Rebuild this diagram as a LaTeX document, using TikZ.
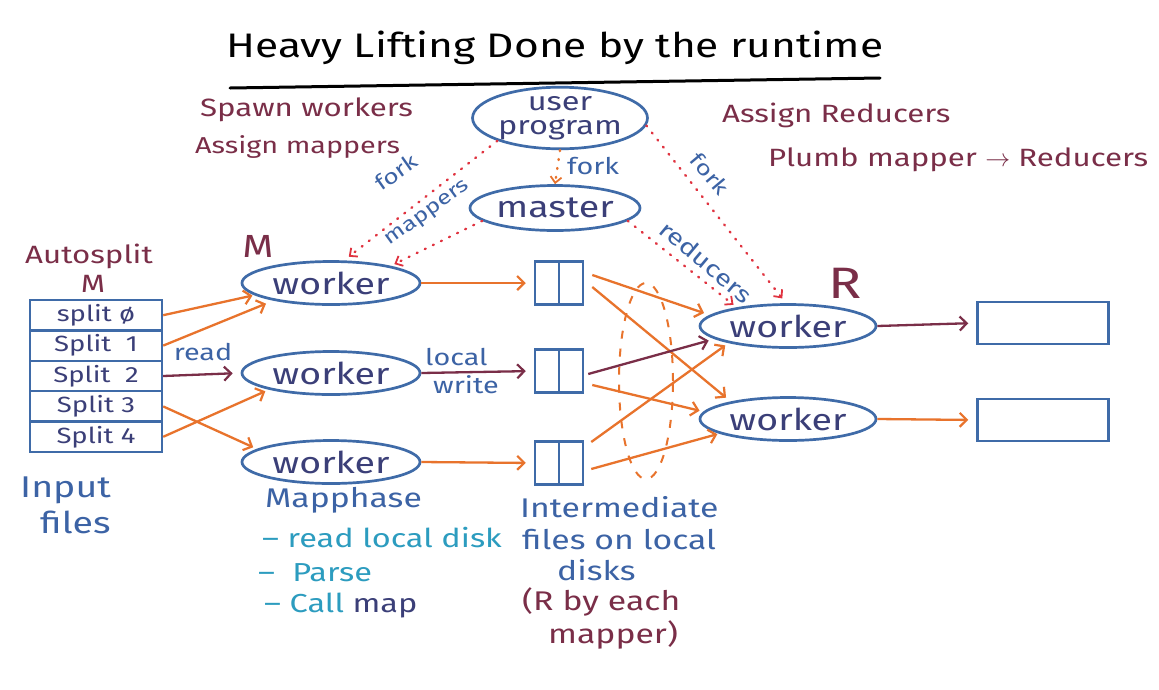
\documentclass[tikz,border=0pt]{standalone}
\usepackage{fontspec}
\setmainfont[FakeStretch=1.25]{Fira Sans}
\usetikzlibrary{shapes.geometric,arrows.meta}
\definecolor{navy}{HTML}{3B3F78}
\definecolor{lineblue}{HTML}{3F6BA8}
\definecolor{lblue}{HTML}{3C63A5}
\definecolor{maroon}{HTML}{7A2E48}
\definecolor{orng}{HTML}{E8732C}
\definecolor{dred}{HTML}{E03340}
\definecolor{teal}{HTML}{2C9CBF}
\tikzset{
  ell/.style={ellipse, draw=lineblue, line width=2.7pt, inner sep=0pt, text=navy, font=\fontsize{30}{30}\selectfont},
  splitrow/.style={rectangle, draw=lineblue, line width=2.4pt, minimum width=132pt, minimum height=30.4pt, inner sep=0pt, text=navy, font=\fontsize{22}{22}\selectfont},
  ibox/.style={rectangle, draw=lineblue, line width=2.5pt, minimum width=48pt, minimum height=43pt, inner sep=0pt},
  obox/.style={rectangle, draw=lineblue, line width=2.5pt, minimum width=131pt, minimum height=42pt, inner sep=0pt},
  tip/.style={-{Straight Barb[length=7pt,width=14pt,line width=2.2pt]}},
  oarr/.style={tip, draw=orng, line width=2.3pt},
  marr/.style={tip, draw=maroon, line width=2.3pt},
  rdot/.style={-{Straight Barb[length=6pt,width=11pt,line width=1.8pt]}, draw=dred, line width=2.4pt, dash pattern=on 1pt off 8pt, line cap=round},
  odot/.style={-{Straight Barb[length=6pt,width=11pt,line width=1.8pt]}, draw=orng, line width=2.4pt, dash pattern=on 1pt off 8pt, line cap=round},
  mtext/.style={text=maroon, font=\fontsize{25}{28}\selectfont, inner sep=0pt},
  btext/.style={text=lblue, font=\fontsize{27}{31}\selectfont, inner sep=0pt},
  ttext/.style={text=teal, font=\fontsize{26}{30}\selectfont, inner sep=0pt},
  small/.style={text=lblue, font=\fontsize{23}{25}\selectfont, inner sep=0pt},
}
\begin{document}
\begin{tikzpicture}[x=1pt,y=-1pt]
\useasboundingbox[fill=white] (0,0) rectangle (1159,689);

% title
\node[font=\fontsize{34}{36}\selectfont, inner sep=0pt] (title) at (555,48) {Heavy Lifting Done by the runtime};
\coordinate (ul1) at (230,88);
\coordinate (ul2) at (880,78);
\draw[line width=3pt, line cap=round] (ul1) -- (ul2);

% side notes
\node[mtext, anchor=west] (spawn) at (200,110) {Spawn workers};
\node[mtext, anchor=west, font=\fontsize{23}{26}\selectfont] (assignm) at (195,147) {Assign mappers};
\node[mtext, anchor=west] (assignr) at (722,115) {Assign Reducers};
\node[mtext, anchor=west] (plumb) at (768,160) {Plumb mapper $\rightarrow$ Reducers};

% user program and master
\node[ell, minimum width=160pt, minimum height=60pt, align=center, font=\fontsize{26}{24}\selectfont] (up) at (560,118) {user\\program};
\node[ell, minimum width=170pt, minimum height=45pt] (master) at (555,208) {master};

\draw[odot] (up.south) -- (master.north);
\node[small, anchor=west] (forkc) at (567,166) {fork};

% map workers
\node[ell, minimum width=178pt, minimum height=43pt] (w1) at (331,283) {worker};
\node[ell, minimum width=178pt, minimum height=43pt] (w2) at (331,373) {worker};
\node[ell, minimum width=178pt, minimum height=43pt] (w3) at (331,462) {worker};

% reduce workers
\node[ell, minimum width=176pt, minimum height=43pt] (r1) at (788,326) {worker};
\node[ell, minimum width=176pt, minimum height=43pt] (r2) at (788,419) {worker};

% labels M, R
\node[mtext, font=\fontsize{32}{32}\selectfont] (mlab) at (258,246) {M};
\node[mtext, font=\fontsize{44}{44}\selectfont] (rlab) at (845,283) {R};
\node[mtext] (auto) at (89,256) {Autosplit};
\node[mtext] (auto2) at (93,284) {M};

% split table
\node[splitrow] (s0) at (96,315.2) {split ø};
\node[splitrow] (s1) at (96,345.6) {Split\ \ 1};
\node[splitrow] (s2) at (96,376.0) {Split\ \ 2};
\node[splitrow] (s3) at (96,406.4) {Split 3};
\node[splitrow] (s4) at (96,436.8) {Split 4};

% intermediate boxes
\node[ibox] (b1) at (559,283) {};
\node[ibox] (b2) at (559,371) {};
\node[ibox] (b3) at (559,463) {};
\foreach \b in {b1,b2,b3} \draw[lineblue, line width=2.5pt] (\b.north) -- (\b.south);

% output boxes
\node[obox] (o1) at (1043,323) {};
\node[obox] (o2) at (1043,420) {};

% dashed ellipse
\node[ellipse, draw=orng, line width=2pt, dashed, dash pattern=on 8pt off 10pt, minimum width=54pt, minimum height=196pt] (shuf) at (646,381) {};

% splits to workers
\draw[oarr, shorten >=2pt] (s0.east) -- (w1.189);
\draw[oarr, shorten >=8pt] (s1.east) -- (w1.197);
\draw[marr, shorten >=8pt] (s2.east) -- (w2.west);
\node[small] (read) at (203,352) {read};
\draw[oarr, shorten >=4pt] (s3.east) -- (w3.170);
\draw[oarr, shorten >=4pt] (s4.east) -- (w2.195);

% workers to intermediate
\draw[oarr, shorten >=8pt] (w1.east) -- (b1.west);
\draw[marr, shorten >=8pt] (w2.east) -- (b2.west);
\draw[oarr, shorten >=8pt] (w3.east) -- (b3.west);
\node[small, anchor=west] (lw1) at (425,357) {local};
\node[small, anchor=west] (lw2) at (433,385) {write};

% shuffle
\draw[oarr, shorten >=6pt] ([xshift=8pt,yshift=8pt]b1.east) -- (r1.172);
\draw[oarr, shorten >=6pt] ([xshift=8pt,yshift=-4pt]b1.east) -- (r2.163);
\draw[marr, shorten >=6pt] ([xshift=4pt,yshift=-3pt]b2.east) -- (r1.190);
\draw[oarr, shorten >=4pt] ([xshift=8pt,yshift=-14pt]b2.east) -- (r2.175);
\draw[oarr, shorten >=4pt] ([xshift=7pt,yshift=21pt]b3.east) -- (r1.196);
\draw[oarr, shorten >=2pt] ([xshift=7pt,yshift=-6pt]b3.east) -- (r2.192);

% reducers to outputs
\draw[marr, shorten >=8pt] (r1.east) -- (o1.west);
\draw[oarr, shorten >=8pt] (r2.east) -- (o2.west);

% red dotted forks
\draw[rdot, shorten >=6pt] (up.200) -- (w1.60);
\draw[rdot, shorten >=4pt] (master.190) -- (w1.16);
\draw[rdot, shorten >=4pt] (master.350) -- (r1.160);
\draw[rdot, shorten >=6pt] (up.355) -- (r1.95);
\node[small, rotate=35, font=\fontsize{21}{23}\selectfont] (forkl) at (396,172) {fork};
\node[small, rotate=36, font=\fontsize{20}{22}\selectfont] (mapl) at (428,214) {mappers};
\node[small, rotate=-40] (redl) at (706,262) {reducers};
\node[small, rotate=-50, font=\fontsize{21}{23}\selectfont] (forkr) at (710,174) {fork};

% bottom texts
\node[btext, anchor=west, font=\fontsize{30}{30}\selectfont] (inp1) at (20,490) {Input};
\node[btext, anchor=west, font=\fontsize{30}{30}\selectfont] (inp2) at (40,522) {files};
\node[btext, anchor=west] (mph) at (265,500) {Mapphase};
\node[ttext, anchor=west] (rl) at (262,538) {\textendash\ read local disk};
\node[ttext, anchor=west] (pa) at (258,573) {\textendash\ \ Parse};
\node[ttext, anchor=west] (cm) at (264,606) {\textendash\ Call \textcolor{navy}{map}};
\node[btext, anchor=west] (it1) at (520,507) {Intermediate};
\node[btext, anchor=west] (it2) at (522,540) {files on local};
\node[btext, anchor=west] (it3) at (557,570) {disks};
\node[mtext, anchor=west, font=\fontsize{27}{30}\selectfont] (rb1) at (522,602) {(R by each};
\node[mtext, anchor=west, font=\fontsize{27}{30}\selectfont] (rb2) at (548,635) {mapper)};
\end{tikzpicture}
\end{document}
